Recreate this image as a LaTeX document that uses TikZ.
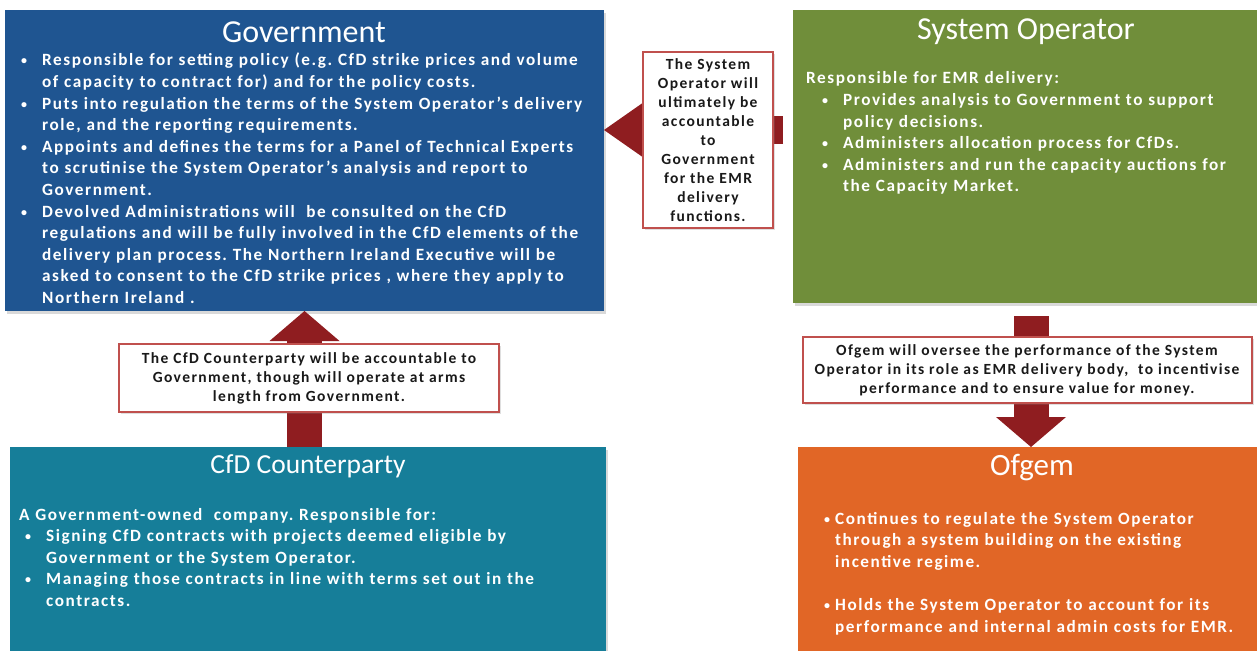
\documentclass[tikz,border=0pt]{standalone}
\usepackage{fontspec}
\setmainfont{Carlito}
\newfontfamily\spacedfont[LetterSpace=9]{Carlito}
\usetikzlibrary{arrows.meta}
\usetikzlibrary{shadows}
\frenchspacing

\definecolor{govblue}{RGB}{31,85,145}
\definecolor{sogreen}{RGB}{112,142,58}
\definecolor{cfdteal}{RGB}{22,126,153}
\definecolor{ofgemorange}{RGB}{225,102,38}
\definecolor{arrowred}{RGB}{143,29,32}
\definecolor{noteborder}{RGB}{192,80,77}

% bullet line: optional offset, then the text
\newcommand{\bulw}{21pt}
\newcommand{\bul}[2][0pt]{\noindent\hangindent=\dimexpr#1+\bulw\relax\hangafter=1%
  \hspace*{#1}\makebox[\bulw][l]{\raisebox{1pt}{\fontsize{12}{12}\selectfont\textbullet}}#2\par}

\tikzset{
  panel/.style={inner sep=0pt, outer sep=0pt, anchor=north west,
    drop shadow={opacity=0.3, shadow xshift=2pt, shadow yshift=-3pt}},
  paneltitle/.style={text=white, inner sep=0pt, font=\fontsize{32}{36}\selectfont},
  paneltext/.style={text=white, inner sep=0pt, anchor=base west, align=left,
    font=\spacedfont\bfseries\fontsize{17.2}{21.6}\selectfont},
  note/.style={draw=noteborder, line width=2pt, fill=white, text=black!90, inner sep=0pt,
    align=center, font=\spacedfont\bfseries\fontsize{15.5}{19}\selectfont,
    drop shadow={opacity=0.25, shadow xshift=2pt, shadow yshift=-2pt}},
  blockarrow/.style={draw=arrowred, line width=35pt,
    -{Triangle[length=30pt,width=70pt,line width=0pt]}},
}

\begin{document}
\begin{tikzpicture}[x=1pt,y=-1pt]
\useasboundingbox (0,0) rectangle (1257,650);

% the four bodies
\node[panel, fill=govblue, minimum width=599pt, minimum height=301pt] (gov) at (5,10) {};
\node[panel, fill=sogreen, minimum width=475pt, minimum height=293pt] (so) at (793,10) {};
\node[panel, fill=cfdteal, minimum width=596pt, minimum height=215pt] (cfd) at (10,447) {};
\node[panel, fill=ofgemorange, minimum width=470pt, minimum height=215pt] (ofgem) at (798,447) {};

\node[paneltitle] (govtitle) at (304,32) {Government};
\node[paneltitle] (sotitle) at (1026,32) {System Operator};
\node[paneltitle, font=\fontsize{27.5}{31}\selectfont] (cfdtitle) at (308,466) {CfD Counterparty};
\node[paneltitle, font=\fontsize{31}{35}\selectfont] (ofgemtitle) at (1032,468) {Ofgem};

\node[paneltext, text width=590pt] (govtext) at (21,66) {%
  \bul{Responsible for setting policy (e.g. CfD strike prices and volume\newline
    of capacity to contract for) and for the policy costs.}
  \bul{Puts into regulation the terms of the System Operator’s delivery\newline
    role, and the reporting requirements.}
  \bul{Appoints and defines the terms for a Panel of Technical Experts\newline
    to scrutinise the System Operator’s analysis and report to\newline Government.}
  \bul{Devolved Administrations will\ \ be consulted on the CfD\newline
    regulations and will be fully involved in the CfD elements of the\newline
    delivery plan process. The Northern Ireland Executive will be\newline
    asked to consent to the CfD strike prices , where they apply to\newline
    Northern Ireland .}};

\node[paneltext, text width=450pt] (sotext) at (806,84) {%
  Responsible for EMR delivery:\par
  \bul[16pt]{Provides analysis to Government to support\newline policy decisions.}
  \bul[16pt]{Administers allocation process for CfDs.}
  \bul[16pt]{Administers and run the capacity auctions for\newline the Capacity Market.}};

\node[paneltext, text width=585pt] (cfdtext) at (19,520) {%
  A Government-owned\ \ company. Responsible for:\par
  \bul[6pt]{Signing CfD contracts with projects deemed eligible by\newline
    Government or the System Operator.}
  \bul[6pt]{Managing those contracts in line with terms set out in the\newline contracts.}};

\node[paneltext, text width=440pt] (ofgemtext) at (824,524) {%
  \renewcommand{\bulw}{11pt}%
  \bul{Continues to regulate the System Operator\newline
    through a system building on the existing\newline incentive regime.}
  \vspace{21.6pt}
  \bul{Holds the System Operator to account for its\newline
    performance and internal admin costs for EMR.}};

% accountability arrows
\coordinate (sotail) at (783,130);
\coordinate (ofgemtail) at (1031,316);
\draw[blockarrow, line width=28pt, -{Triangle[length=40pt,width=56pt,line width=0pt]}]
  (sotail) -- (gov.east |- sotail);
\draw[blockarrow] (gov.south |- cfd.north) -- (gov.south);
\draw[blockarrow] (ofgemtail) -- (ofgemtail |- ofgem.north);

% notes on the arrows
\node[note, minimum width=130pt, minimum height=176pt] (sonote) at (708,140)
  {The System\\Operator will\\ultimately be\\accountable\\to\\Government\\for the EMR\\delivery\\functions.};
\node[note, minimum width=380pt, minimum height=68pt] (cfdnote) at (309,378)
  {The CfD Counterparty will be accountable to\\Government, though will operate at arms\\length from Government.};
\node[note, minimum width=449pt, minimum height=66pt] (ofgemnote) at (1027,370)
  {Ofgem will oversee the performance of the System\\Operator in its role as EMR delivery body,\ \ to incentivise\\performance and to ensure value for money.};
\end{tikzpicture}
\end{document}
